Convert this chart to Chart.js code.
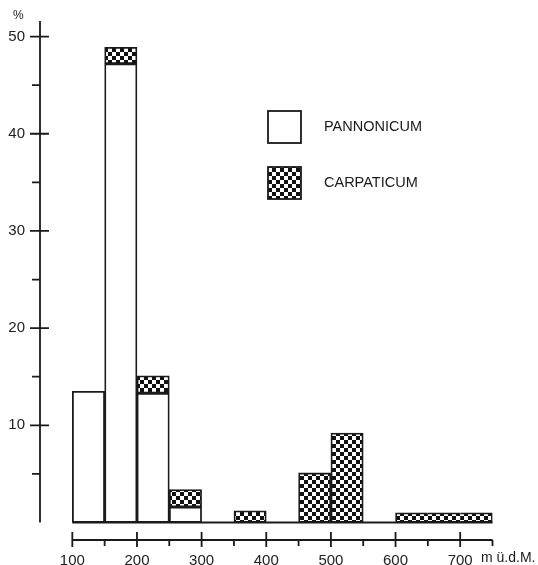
<!DOCTYPE html>
<html>
<head>
<meta charset="utf-8">
<script src="https://cdn.jsdelivr.net/npm/chart.js@4"></script>
<style>
  html, body { margin: 0; padding: 0; background: #fff; }
  #wrap { width: 538px; height: 565px; position: relative; }
</style>
</head>
<body>
<div id="wrap"><canvas id="chart"></canvas></div>
<script>
// altitude bins (m ü.d.M.), lower edge of each 50 m class
const binStarts = [100, 150, 200, 250, 300, 350, 400, 450, 500, 550, 600, 650, 700];
const binWidth = 50;
// share of sites in %
const pannonicum = [13.5, 47.2, 13.3, 1.6, 0, 0, 0, 0, 0, 0, 0, 0, 0];
const carpaticum = [0, 1.7, 1.8, 1.8, 0, 1.2, 0, 5.1, 9.2, 0, 1.0, 1.0, 1.0];
const seriesNames = ["PANNONICUM", "CARPATICUM"];

const yMajorTicks = [10, 20, 30, 40, 50];
const yMinorTicks = [5, 15, 25, 35, 45];
const xMajorTicks = [100, 200, 300, 400, 500, 600, 700];
const xMinorTicks = [150, 250, 350, 450, 550, 650, 750];

const INK = "#1a1a1a";
const FONT = "'Liberation Sans', Arial, sans-serif";

function checkerPattern() {
  const c = document.createElement("canvas");
  c.width = c.height = 8;
  const g = c.getContext("2d");
  g.fillStyle = "#fff";
  g.fillRect(0, 0, 8, 8);
  g.fillStyle = "#111";
  g.fillRect(0, 0, 4, 4);
  g.fillRect(4, 4, 4, 4);
  return g.createPattern(c, "repeat");
}
const checker = checkerPattern();

const toPoints = vals => vals.map((v, i) => ({ x: binStarts[i] + binWidth / 2, y: v }));

// last three carpaticum bins read as one long box
function carpBorder(ctx) {
  const i = ctx.dataIndex;
  const w = { top: 1.8, bottom: 1.8, left: 1.8, right: 1.8 };
  if (i === 10) w.right = 0;
  if (i === 11) { w.left = 0; w.right = 0; }
  if (i === 12) w.left = 0;
  return w;
}

const handAxes = {
  id: "handAxes",
  afterDatasetsDraw(chart) {
    const { ctx, chartArea, scales: { x, y } } = chart;
    const y0 = y.getPixelForValue(0);
    const xl = x.getPixelForValue(binStarts[0]);
    const xr = x.getPixelForValue(binStarts[binStarts.length - 1] + binWidth);
    const ax = chartArea.left;
    const bx = chartArea.bottom;
    ctx.save();
    ctx.strokeStyle = INK;
    ctx.lineWidth = 1.8;
    ctx.beginPath();
    // baseline under the bars
    ctx.moveTo(xl, y0); ctx.lineTo(xr, y0);
    // y axis
    ctx.moveTo(ax, chartArea.top); ctx.lineTo(ax, y0);
    yMajorTicks.forEach(v => {
      const p = y.getPixelForValue(v);
      ctx.moveTo(ax - 10, p); ctx.lineTo(ax + 9, p);
    });
    yMinorTicks.forEach(v => {
      const p = y.getPixelForValue(v);
      ctx.moveTo(ax - 8, p); ctx.lineTo(ax, p);
    });
    // x axis
    ctx.moveTo(xl, bx); ctx.lineTo(xr, bx);
    xMajorTicks.forEach(v => {
      const p = x.getPixelForValue(v);
      ctx.moveTo(p, bx - 8); ctx.lineTo(p, bx + 7);
    });
    xMinorTicks.forEach(v => {
      const p = x.getPixelForValue(v);
      ctx.moveTo(p, bx); ctx.lineTo(p, bx + 6);
    });
    ctx.stroke();

    // legend
    const fills = ["#fff", checker];
    const boxY = [111, 167];
    ctx.font = "14.5px " + FONT;
    ctx.textBaseline = "middle";
    ctx.textAlign = "left";
    seriesNames.forEach((name, i) => {
      ctx.fillStyle = fills[i];
      ctx.fillRect(268, boxY[i], 33, 32);
      ctx.lineWidth = 1.8;
      ctx.strokeRect(268, boxY[i], 33, 32);
      ctx.fillStyle = INK;
      ctx.fillText(name, 324, boxY[i] + 16);
    });

    // unit labels
    ctx.font = "12px " + FONT;
    ctx.fillText("%", 13, 16);
    ctx.font = "14px " + FONT;
    ctx.fillText("m ü.d.M.", 481, 558);
    ctx.restore();
  }
};

new Chart(document.getElementById("chart"), {
  type: "bar",
  data: {
    datasets: [
      {
        label: seriesNames[0],
        data: toPoints(pannonicum),
        backgroundColor: "#fff",
        borderColor: INK,
        borderWidth: 1.8,
        borderSkipped: false
      },
      {
        label: seriesNames[1],
        data: toPoints(carpaticum),
        backgroundColor: checker,
        borderColor: INK,
        borderWidth: carpBorder,
        borderSkipped: false
      }
    ]
  },
  options: {
    responsive: true,
    maintainAspectRatio: false,
    animation: false,
    barPercentage: 1,
    categoryPercentage: 1,
    layout: { padding: { top: 21, right: 45.5, left: 0, bottom: 0 } },
    plugins: { legend: { display: false }, tooltip: { enabled: false } },
    scales: {
      x: {
        type: "linear",
        offset: false,
        stacked: true,
        min: 50,
        max: 750,
        afterBuildTicks: s => { s.ticks = xMajorTicks.map(v => ({ value: v })); },
        afterFit: s => { s.height = 25; },
        grid: { display: false },
        border: { display: false },
        ticks: { padding: 4, color: "#222", font: { family: FONT, size: 15 }, maxRotation: 0, autoSkip: false }
      },
      y: {
        stacked: true,
        min: -1.8,
        max: 51.6,
        afterBuildTicks: s => { s.ticks = yMajorTicks.map(v => ({ value: v })); },
        afterFit: s => { s.width = 40; },
        grid: { display: true, drawOnChartArea: false, drawTicks: true, tickLength: 15, tickColor: "rgba(0,0,0,0)" },
        border: { display: false },
        ticks: { padding: 0, color: "#222", font: { family: FONT, size: 15 } }
      }
    }
  },
  plugins: [handAxes]
});
</script>
</body>
</html>
